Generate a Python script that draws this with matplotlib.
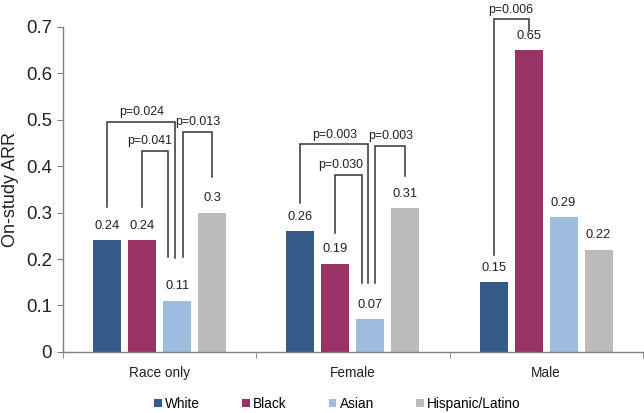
import matplotlib
matplotlib.use("Agg")
import matplotlib.pyplot as plt
import numpy as np

plt.rcParams['font.family'] = ['Liberation Sans', 'DejaVu Sans']

categories = ["Race only", "Female", "Male"]
series = ["White", "Black", "Asian", "Hispanic/Latino"]
values = {
    "White": [0.24, 0.26, 0.15],
    "Black": [0.24, 0.19, 0.65],
    "Asian": [0.11, 0.07, 0.29],
    "Hispanic/Latino": [0.30, 0.31, 0.22],
}
colors = ["#355B88", "#9A3365", "#9EBCDD", "#BBBBBB"]
yticks = [0, 0.1, 0.2, 0.3, 0.4, 0.5, 0.6, 0.7]

# significance brackets: (group, bar_left, bar_right, y_top, y_left_end, y_right_end, label)
brackets = [
    (0, 0, 2, 0.496, 0.312, 0.203, "p=0.024"),
    (0, 1, 2, 0.433, 0.312, 0.205, "p=0.041"),
    (0, 2, 3, 0.474, 0.205, 0.377, "p=0.013"),
    (1, 0, 2, 0.447, 0.321, 0.149, "p=0.003"),
    (1, 1, 2, 0.381, 0.256, 0.149, "p=0.030"),
    (1, 2, 3, 0.444, 0.149, 0.378, "p=0.003"),
    (2, 0, 1, 0.716, 0.209, 0.694, "p=0.006"),
]
# horizontal offset of bracket legs attached to the Asian bar
asian_leg_offset = {("0", "0", "2"): -0.01, ("0", "1", "2"): -0.048, ("0", "2", "3"): 0.03,
                    ("1", "0", "2"): -0.01, ("1", "1", "2"): -0.042, ("1", "2", "3"): 0.026}
label_shift = {"p=0.041": -0.03, "p=0.030": -0.045}

fig = plt.figure(figsize=(6.44, 4.13), dpi=100)
ax = fig.add_axes([0.098, 0.148, 0.900, 0.787])

slot = 0.181
width = 0.145
x = np.arange(len(categories))
for i, s in enumerate(series):
    pos = x + (i - 1.5) * slot
    ax.bar(pos, values[s], width, color=colors[i], label=s, zorder=2)
    for p, v in zip(pos, values[s]):
        ax.annotate(f"{v:g}", (p, v), xytext=(0, 6), textcoords="offset points",
                    ha="center", va="bottom", fontsize=9.3, color="#222222")

lc = "#333333"
for g, a, b, yt, yl, yr, lab in brackets:
    xa = g + (a - 1.5) * slot
    xb = g + (b - 1.5) * slot
    key = (str(g), str(a), str(b))
    if a == 2:
        xa += asian_leg_offset.get(key, 0)
    if b == 2:
        xb += asian_leg_offset.get(key, 0)
    ax.plot([xa, xa, xb, xb], [yl, yt, yt, yr], color=lc, lw=1.1, zorder=3,
            clip_on=False, solid_joinstyle="miter")
    ax.annotate(lab, ((xa + xb) / 2 + label_shift.get(lab, 0), yt), xytext=(0, 2.5),
                textcoords="offset points", ha="center", va="bottom", fontsize=8.9,
                color="#222222", annotation_clip=False)

ax.set_xlim(-0.5, 2.5)
ax.set_ylim(0, 0.7)
ax.set_yticks(yticks)
ax.set_yticklabels([f"{t:g}" for t in yticks], fontsize=13.4, color="#222222")
ax.set_ylabel("On-study ARR", fontsize=13, color="#222222", labelpad=5)
ax.set_xticks(x)
ax.set_xticklabels(categories, fontsize=9.8, color="#222222")
ax.set_xticks([-0.5, 0.5, 1.5, 2.5], minor=True)
ax.tick_params(axis="x", which="major", length=0, pad=10)
ax.tick_params(axis="x", which="minor", length=4, color="#808080", direction="out")
ax.tick_params(axis="y", length=4, color="#808080", direction="out", pad=4)
for sp in ["top", "right"]:
    ax.spines[sp].set_visible(False)
for sp in ["left", "bottom"]:
    ax.spines[sp].set_color("#808080")
    ax.spines[sp].set_linewidth(1.0)

leg = fig.legend(loc="lower center", bbox_to_anchor=(0.524, -0.025), ncol=4, frameon=False,
                 fontsize=9.8, handlelength=0.55, handleheight=0.55, handletextpad=0.25,
                 columnspacing=3.1)

fig.savefig("out.png", dpi=100)
